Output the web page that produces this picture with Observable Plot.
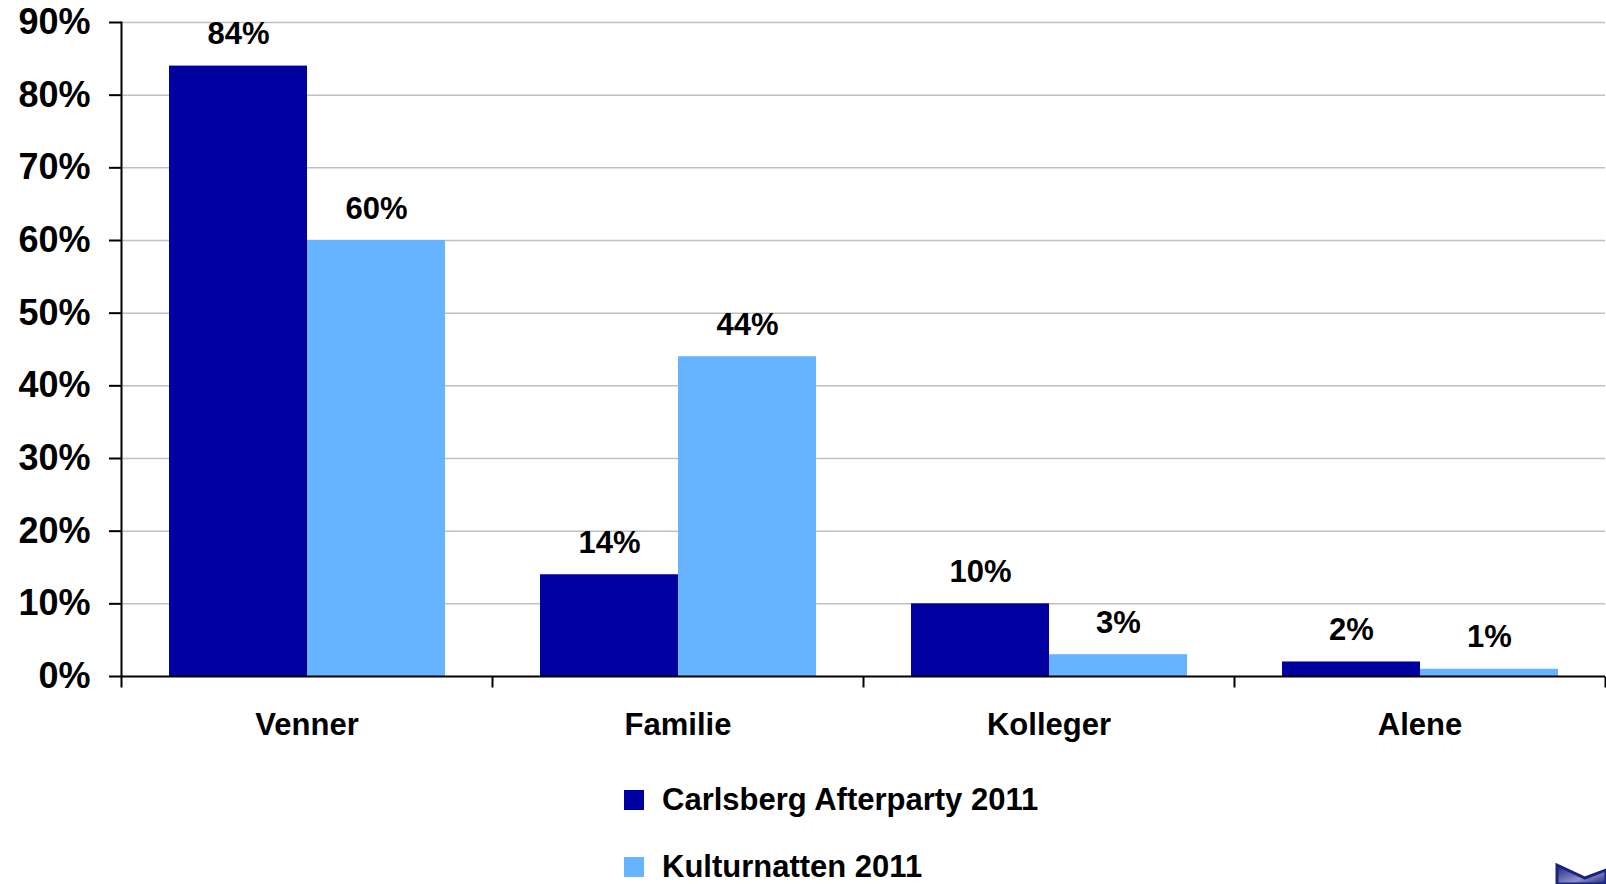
<!DOCTYPE html>
<html>
<head>
<meta charset="utf-8">
<script src="https://cdn.jsdelivr.net/npm/d3@7"></script>
<script src="https://cdn.jsdelivr.net/npm/@observablehq/plot@0.6"></script>
<style>
  html, body { margin: 0; padding: 0; background: #fff; }
  #wrap { position: relative; width: 1606px; height: 884px; overflow: hidden; font-family: "Liberation Sans", Arial, sans-serif; font-weight: bold; }
  #chart { position: absolute; left: 0; top: 0; }
  .leg { position: absolute; left: 624px; display: flex; align-items: center; height: 24px; line-height: 24px; font-size: 31px; color: #000; white-space: nowrap; }
  .leg .sw { width: 20px; height: 20px; margin-right: 18px; }
  #logo { position: absolute; left: 1555px; top: 862px; }
</style>
</head>
<body>
<div id="wrap">
  <div id="chart"></div>
  <div id="legend"></div>
  <svg id="logo" width="51" height="22">
    <defs><linearGradient id="lg" x1="0" y1="0" x2="1" y2="1"><stop offset="0" stop-color="#1a237e"/><stop offset="0.6" stop-color="#8f8fc8"/><stop offset="1" stop-color="#1a237e"/></linearGradient></defs>
    <polygon points="2,3 30,16 51,8 51,22 2,22" fill="url(#lg)" stroke="#1a237e" stroke-width="3"/>
  </svg>
</div>
<script>
const categories = ["Venner", "Familie", "Kolleger", "Alene"];
const seriesNames = ["Carlsberg Afterparty 2011", "Kulturnatten 2011"];
const carlsberg = [84, 14, 10, 2];
const kulturnatten = [60, 44, 3, 1];
const seriesColors = ["#0000A0", "#66B3FF"];
const yTicks = [0, 10, 20, 30, 40, 50, 60, 70, 80, 90];

const rows = [];
categories.forEach((c, i) => {
  rows.push({cat: c, series: seriesNames[0], value: carlsberg[i]});
  rows.push({cat: c, series: seriesNames[1], value: kulturnatten[i]});
});

const tickSymbol = { draw(ctx) { ctx.moveTo(0, 0); ctx.lineTo(0, 11); } };
const font = "'Liberation Sans', Arial, sans-serif";

const chart = Plot.plot({
  width: 1606,
  height: 760,
  marginLeft: 120,
  marginRight: 1,
  marginTop: 22,
  marginBottom: 84,
  style: { fontFamily: font, fontWeight: "bold", background: "white", color: "black" },
  fx: { domain: categories, padding: 0, label: null },
  x: { domain: seriesNames, paddingInner: 0, paddingOuter: 0.335, axis: null },
  y: { domain: [0, 90], label: null },
  color: { domain: seriesNames, range: seriesColors },
  marks: [
    Plot.ruleY(yTicks.slice(1), { stroke: "#c0c0c0", strokeWidth: 1.5 }),
    Plot.barY(rows, { fx: "cat", x: "series", y: "value", fill: "series" }),
    Plot.ruleY([0], { stroke: "black", strokeWidth: 2 }),
    Plot.text(rows, { fx: "cat", x: "series", y: "value", text: d => d.value + "%", lineAnchor: "bottom", dy: -22, fontSize: 31, fontWeight: "bold", fill: "black" }),
    Plot.frame({ anchor: "left", facet: "super", stroke: "black", strokeWidth: 2 }),
    Plot.dot(categories, { fx: d => d, frameAnchor: "bottom-left", symbol: tickSymbol, stroke: "black", strokeWidth: 2 }),
    Plot.dot(categories.slice(-1), { fx: d => d, frameAnchor: "bottom-right", symbol: tickSymbol, stroke: "black", strokeWidth: 2 }),
    Plot.axisY({ ticks: yTicks, tickSize: 12, tickPadding: 19, tickFormat: d => d + "%", fontSize: 36, fontWeight: "bold", strokeWidth: 2, label: null }),
    Plot.axisFx({ anchor: "bottom", tickSize: 0, tickPadding: 36, fontSize: 31, fontWeight: "bold", label: null })
  ]
});
document.getElementById("chart").appendChild(chart);

const legend = document.getElementById("legend");
const legendTops = [788, 855];
seriesNames.forEach((name, i) => {
  const item = document.createElement("div");
  item.className = "leg";
  item.style.top = legendTops[i] + "px";
  const sw = document.createElement("span");
  sw.className = "sw";
  sw.style.background = seriesColors[i];
  const label = document.createElement("span");
  label.textContent = name;
  item.appendChild(sw);
  item.appendChild(label);
  legend.appendChild(item);
});
</script>
</body>
</html>
